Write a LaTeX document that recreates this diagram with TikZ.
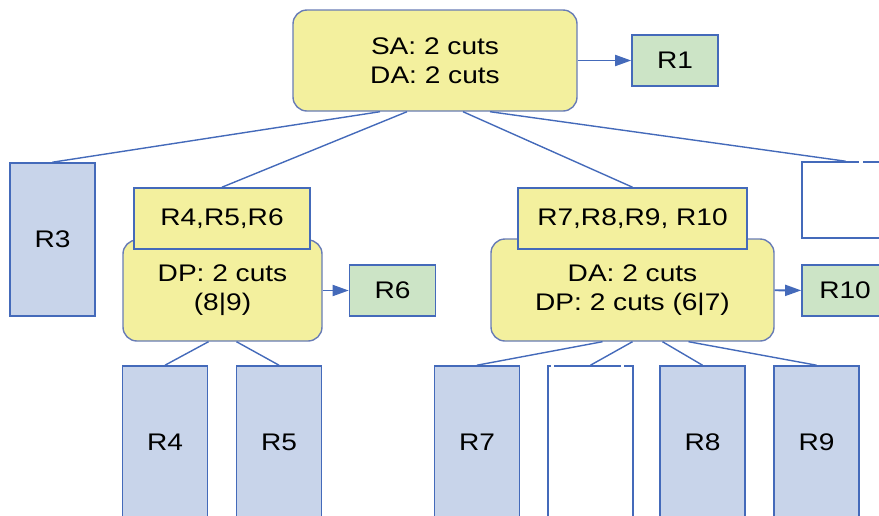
\documentclass[tikz,border=0pt]{standalone}
\usepackage{fontspec}
\setmainfont{Liberation Sans}[FakeStretch=1.17]
\usepackage{tikz}
\usetikzlibrary{arrows.meta}
\definecolor{leafblue}{RGB}{200,212,234}
\definecolor{edgeblue}{RGB}{68,106,186}
\definecolor{cutyellow}{RGB}{243,240,158}
\definecolor{rulegreen}{RGB}{204,228,198}
\definecolor{cutedge}{RGB}{104,124,182}
\tikzstyle{cut} = [draw=cutedge, fill=cutyellow, rounded corners=7pt, line width=0.7pt, align=center, inner sep=0pt]
\tikzstyle{ruleset} = [draw=edgeblue, fill=cutyellow, line width=0.8pt, inner sep=0pt]
\tikzstyle{leaf} = [draw=edgeblue, fill=leafblue, line width=0.8pt, inner sep=0pt, minimum width=42.5pt]
\tikzstyle{blank} = [draw=edgeblue, fill=white, line width=0.8pt, inner sep=0pt, minimum width=42.5pt]
\tikzstyle{rule} = [draw=edgeblue, fill=rulegreen, line width=0.8pt, inner sep=0pt, minimum width=43pt, minimum height=25.5pt]
\tikzstyle{link} = [edgeblue, line width=0.7pt]
\tikzstyle{arrow} = [edgeblue, line width=0.9pt, -{Triangle[length=8pt, width=5.5pt]}]

\begin{document}
\begin{tikzpicture}[x=0.5pt, y=-0.5pt, font=\fontsize{12}{14.5}\selectfont]
    \clip (0,0) rectangle (879,515);

    % Root of the cut tree
    \node[cut, minimum width=142pt, minimum height=50.5pt] (root) at (435,60.5) {SA: 2 cuts\\DA: 2 cuts};
    \node[rule] (r1) at (675,60.5) {R1};
    \draw[arrow] (root) -- (r1);

    % Second level
    \node[leaf, minimum height=76.5pt] (r3) at (52.5,239.5) {R3};
    \node[cut, minimum width=99.5pt, minimum height=50.5pt] (dp) at (222.5,290.5) {DP: 2 cuts\\(8|9)};
    \node[ruleset, minimum width=88pt, minimum height=30.5pt] (set456) at (222,218.5) {R4,R5,R6};
    \node[rule] (r6) at (392.5,290.5) {R6};
    \draw[arrow] (dp) -- (r6);

    \node[cut, minimum width=141.5pt, minimum height=51pt] (da) at (632.5,290) {DA: 2 cuts\\DP: 2 cuts (6|7)};
    \node[ruleset, minimum width=114.5pt, minimum height=30.5pt] (set78) at (632.5,218.5) {R7,R8,R9, R10};
    \node[rule] (r10) at (845,290.5) {R10};
    \draw[arrow] (da) -- (r10);

    \node[blank, minimum width=43.5pt, minimum height=38pt] (blank1) at (845.5,200) {};

    \draw[link] ([xshift=-27.5pt]root.south) -- (r3.north);
    \draw[link] ([xshift=-14pt]root.south) -- (set456.north);
    \draw[link] ([xshift=14pt]root.south) -- (set78.north);
    \draw[link] ([xshift=27.5pt]root.south) -- (blank1.north);

    % Leaves
    \foreach \nm/\xx/\lbl in {r4/165/R4, r5/279/R5, r7/477/R7, r8/702.5/R8, r9/816.5/R9}
      \node[leaf, minimum height=76pt] (\nm) at (\xx,442) {\lbl};
    \node[blank, minimum height=76pt] (blank2) at (590.5,442) {};

    \draw[link] ([xshift=-7pt]dp.south) -- (r4.north);
    \draw[link] ([xshift=7pt]dp.south) -- (r5.north);
    \foreach \nm/\dx in {r7/-15pt, blank2/0pt, r8/15pt, r9/28pt}
      \draw[link] ([xshift=\dx]da.south) -- (\nm.north);

    % small breaks in the empty boxes
    \draw[white, line width=1.2pt] (859,162) -- (863,162);
    \draw[white, line width=1.2pt] (551,366) -- (554,366);
    \draw[white, line width=1.2pt] (621,366) -- (624,366);
\end{tikzpicture}
\end{document}
